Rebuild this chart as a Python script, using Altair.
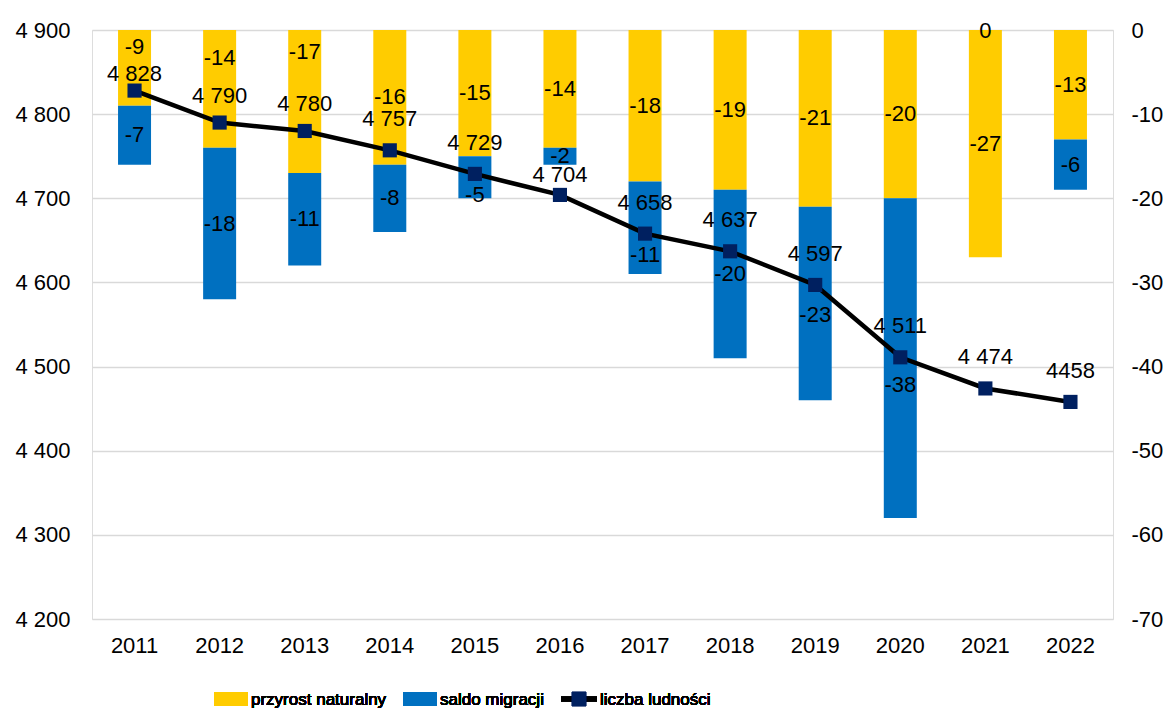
import altair as alt
import pandas as pd

years = [2011, 2012, 2013, 2014, 2015, 2016, 2017, 2018, 2019, 2020, 2021, 2022]
przyrost = [-9, -14, -17, -16, -15, -14, -18, -19, -21, -20, -27, -13]
saldo = [-7, -18, -11, -8, -5, -2, -11, -20, -23, -38, 0, -6]
ludnosc = [4828, 4790, 4780, 4757, 4729, 4704, 4658, 4637, 4597, 4511, 4474, 4458]
ludnosc_labels = ["4 828", "4 790", "4 780", "4 757", "4 729", "4 704",
                  "4 658", "4 637", "4 597", "4 511", "4 474", "4458"]

# data-label anchors (right-axis units) that were moved by hand in the original
yellow_label_at = {2011: -2.0, 2012: -3.3, 2013: -2.6}
blue_label_at = {2015: -19.6, 2017: -26.7, 2019: -33.9, 2020: -42.2, 2021: -0.1}

YELLOW = "#FFCC00"
BLUE = "#0070C0"
NAVY = "#002060"
FONT = "Liberation Sans"
FS = 22

rows = []
for i, yr in enumerate(years):
    a, b = przyrost[i], saldo[i]
    rows.append(dict(year=str(yr), series="przyrost naturalny", start=0, end=a,
                     val=str(a), lab=yellow_label_at.get(yr, a / 2)))
    rows.append(dict(year=str(yr), series="saldo migracji", start=a, end=a + b,
                     val=str(b), lab=blue_label_at.get(yr, a + b / 2)))
bars_df = pd.DataFrame(rows)

line_df = pd.DataFrame({"year": [str(y) for y in years], "pop": ludnosc,
                        "label": ludnosc_labels})

x = alt.X("year:N", title=None,
          scale=alt.Scale(paddingInner=0, paddingOuter=0),
          axis=alt.Axis(labelFont=FONT, labelFontSize=FS, labelColor="#000",
                        labelAngle=0, ticks=False, domain=False,
                        labelPadding=16, grid=False))

yr_scale = alt.Scale(domain=[-70, 0], nice=False, zero=False)
yl_scale = alt.Scale(domain=[4200, 4900], nice=False, zero=False)

right_axis = alt.Axis(orient="right", values=list(range(-70, 1, 10)),
                      labelExpr="'' + datum.value", labelFont=FONT,
                      labelFontSize=FS, labelColor="#000", ticks=False,
                      domain=False, labelPadding=18, grid=True,
                      gridColor="#d9d9d9", gridWidth=1.3, title=None)
left_axis = alt.Axis(orient="left", values=list(range(4200, 4901, 100)),
                     labelExpr="replace(format(datum.value, ','), ',', ' ')",
                     labelFont=FONT, labelFontSize=FS, labelColor="#000",
                     ticks=False, domain=False, labelPadding=22, grid=False,
                     title=None)

bars = alt.Chart(bars_df).mark_bar(size=33).encode(
    x=x,
    y=alt.Y("start:Q", scale=yr_scale, title=None, axis=right_axis),
    y2="end:Q",
    color=alt.Color("series:N", legend=None,
                    scale=alt.Scale(domain=["przyrost naturalny", "saldo migracji"],
                                    range=[YELLOW, BLUE])),
)

bar_text = alt.Chart(bars_df).mark_text(font=FONT, fontSize=FS, color="#000",
                                        baseline="middle").encode(
    x=alt.X("year:N"),
    y=alt.Y("lab:Q", scale=yr_scale, title=None, axis=right_axis),
    text="val:N",
)

right = alt.layer(bars, bar_text)

line = alt.Chart(line_df).mark_line(color="#000", strokeWidth=4.5).encode(
    x=alt.X("year:N"),
    y=alt.Y("pop:Q", scale=yl_scale, title=None, axis=left_axis),
)
pts = alt.Chart(line_df).mark_point(shape="square", filled=True, size=200,
                                    color=NAVY, opacity=1).encode(
    x=alt.X("year:N"), y=alt.Y("pop:Q", scale=yl_scale, title=None, axis=left_axis))


def line_labels(filter_years, dy):
    return alt.Chart(line_df).transform_filter(
        alt.FieldOneOfPredicate(field="year", oneOf=[str(v) for v in filter_years])
    ).mark_text(font=FONT, fontSize=FS, color="#000", dy=dy, baseline="middle").encode(
        x=alt.X("year:N"),
        y=alt.Y("pop:Q", scale=yl_scale, title=None, axis=left_axis),
        text="label:N")


lab_main = line_labels([2014, 2015, 2017, 2018, 2019, 2020, 2021, 2022], -31)
lab_a = line_labels([2011], -17)
lab_b = line_labels([2012, 2013], -27)
lab_c = line_labels([2016], -20)

left = alt.layer(line, pts, lab_main, lab_a, lab_b, lab_c)

# legend
LY = 669
LFS = 17
leg = []
leg_items = [("przyrost naturalny", YELLOW, 122, 159),
             ("saldo migracji", BLUE, 311, 348)]
for name, col, sx, tx in leg_items:
    leg.append(alt.Chart(line_df).mark_rect(color=col).encode(
        x=alt.value(sx), x2=alt.value(sx + 34), y=alt.value(LY - 7), y2=alt.value(LY + 7)))
    leg.append(alt.Chart(line_df).mark_text(font=FONT, fontSize=LFS, color="#000",
                                           align="left", baseline="middle").encode(
        x=alt.value(tx), y=alt.value(LY + 1), text=alt.value(name)))
leg.append(alt.Chart(line_df).mark_rule(color="#000", strokeWidth=4.5).encode(
    x=alt.value(469), x2=alt.value(505), y=alt.value(LY)))
leg.append(alt.Chart(line_df).mark_point(shape="square", filled=True, size=200,
                                         color=NAVY, opacity=1).encode(
    x=alt.value(487), y=alt.value(LY)))
leg.append(alt.Chart(line_df).mark_text(font=FONT, fontSize=LFS, color="#000",
                                        align="left", baseline="middle").encode(
    x=alt.value(508), y=alt.value(LY + 1), text=alt.value("liczba ludności")))

chart = alt.layer(right, left, *leg).resolve_scale(y="independent").properties(
    width=1021, height=589,
    autosize=alt.AutoSizeParams(type="none"),
    padding={"left": 84, "top": 22, "right": 50, "bottom": 90},
).configure_view(stroke="transparent").configure(background="white")

chart.save("out.html", embed_options={"renderer": "svg", "actions": False})
